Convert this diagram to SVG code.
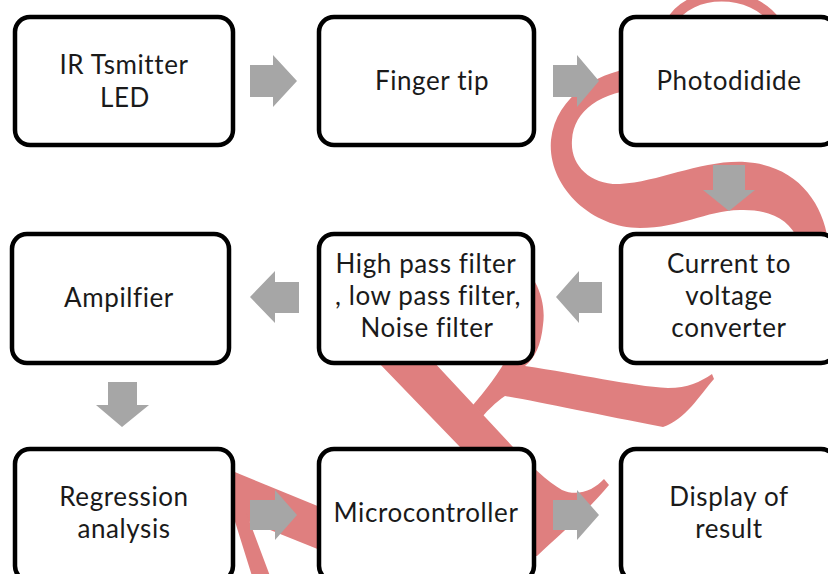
<svg xmlns="http://www.w3.org/2000/svg" width="828" height="574" viewBox="0 0 828 574">
<style>
.box{fill:#fff;stroke:#000;stroke-width:4.5}
.t{font-family:Lato,"Open Sans","Liberation Sans",sans-serif;font-size:26px;letter-spacing:0.6px;fill:#1a1a1a;text-anchor:middle}
.ar{fill:#a6a6a6}
.wm{fill:#df7f7f}
</style>
<rect width="828" height="574" fill="#fff"/>
<g id="watermark">
<path class="wm" d="M 645 66 C 600 70, 556 95, 551 140 C 547 185, 590 228, 640 228 C 680 228, 705 211, 740 210 C 770 209, 790 220, 798 240 L 828 240 C 822 200, 795 165, 745 162 C 700 160, 660 182, 620 184 C 590 185, 570 165, 572 140 C 574 110, 600 92, 645 88 Z"/>
<path d="M 671 22 C 690 -12, 752 -12, 776 22" fill="none" stroke="#df7f7f" stroke-width="10"/>
<path class="wm" d="M 473 405 C 490 385, 520 350, 520 310 C 520 280, 500 262, 480 255 L 485 240 C 525 255, 548 290, 543 325 C 541 345, 535 358, 525 366 C 580 374, 630 386, 668 388 C 688 388, 700 382, 712 374 L 714 379 C 700 395, 685 420, 663 427 C 600 415, 540 402, 505 396 C 495 403, 488 410, 483 416 Z"/>
<path class="wm" d="M 376 360 L 432 360 L 513 447 C 530 465, 548 482, 562 490 C 578 497, 594 490, 604 479 L 609 485 C 590 508, 565 530, 537 556 L 520 556 L 460 447 Z"/>
<path class="wm" d="M 225 468 L 320 507 L 320 550 L 225 512 Z"/>
<path class="wm" d="M 232 512 L 246 512 L 270 576 L 252 576 Z"/>
</g>
<g id="connectors">
<polygon class="ar" points="250,65 273,65 273,55 297,81 273,107 273,97 250,97"/>
<polygon class="ar" points="553,65 577,65 577,55 599,81 577,107 577,97 553,97"/>
<polygon class="ar" points="713,165 745,165 745,190 755,190 729,211 703,190 713,190"/>
<polygon class="ar" points="299,282 275,282 275,271 250,297 275,323 275,313 299,313"/>
<polygon class="ar" points="602,282 579,282 579,271 556,297 579,323 579,313 602,313"/>
<polygon class="ar" points="108,382 137,382 137,405 149,405 122,427 96,405 108,405"/>
<polygon class="ar" points="250,500 275,500 275,490 297,515 275,540 275,530 250,530"/>
<polygon class="ar" points="553,500 577,500 577,490 599,515 577,540 577,530 553,530"/>
</g>
<g id="n1"><rect class="box" x="15" y="17" width="218" height="128" rx="15"/><text class="t" x="124" y="74">IR Tsmitter</text><text class="t" x="125" y="107">LED</text></g>
<g id="n2"><rect class="box" x="319" y="17" width="215" height="128" rx="15"/><text class="t" x="432" y="90">Finger tip</text></g>
<g id="n3"><rect class="box" x="621" y="17" width="215" height="128" rx="15"/><text class="t" x="729" y="90">Photodidide</text></g>
<g id="n4"><rect class="box" x="621" y="234" width="215" height="129" rx="15"/><text class="t" x="729" y="273">Current to</text><text class="t" x="729" y="305">voltage</text><text class="t" x="729" y="337">converter</text></g>
<g id="n5"><rect class="box" x="319" y="234" width="214" height="129" rx="15"/><text class="t" x="426" y="273">High pass filter</text><text class="t" x="428" y="305">, low pass filter,</text><text class="t" x="427" y="337">Noise filter</text></g>
<g id="n6"><rect class="box" x="12" y="234" width="217" height="129" rx="15"/><text class="t" x="119" y="307">Ampilfier</text></g>
<g id="n7"><rect class="box" x="15" y="449" width="218" height="132" rx="15"/><text class="t" x="124" y="506">Regression</text><text class="t" x="124" y="538">analysis</text></g>
<g id="n8"><rect class="box" x="319" y="449" width="215" height="132" rx="15"/><text class="t" x="426" y="522">Microcontroller</text></g>
<g id="n9"><rect class="box" x="621" y="449" width="215" height="132" rx="15"/><text class="t" x="729" y="506">Display of</text><text class="t" x="729" y="538">result</text></g>
</svg>
